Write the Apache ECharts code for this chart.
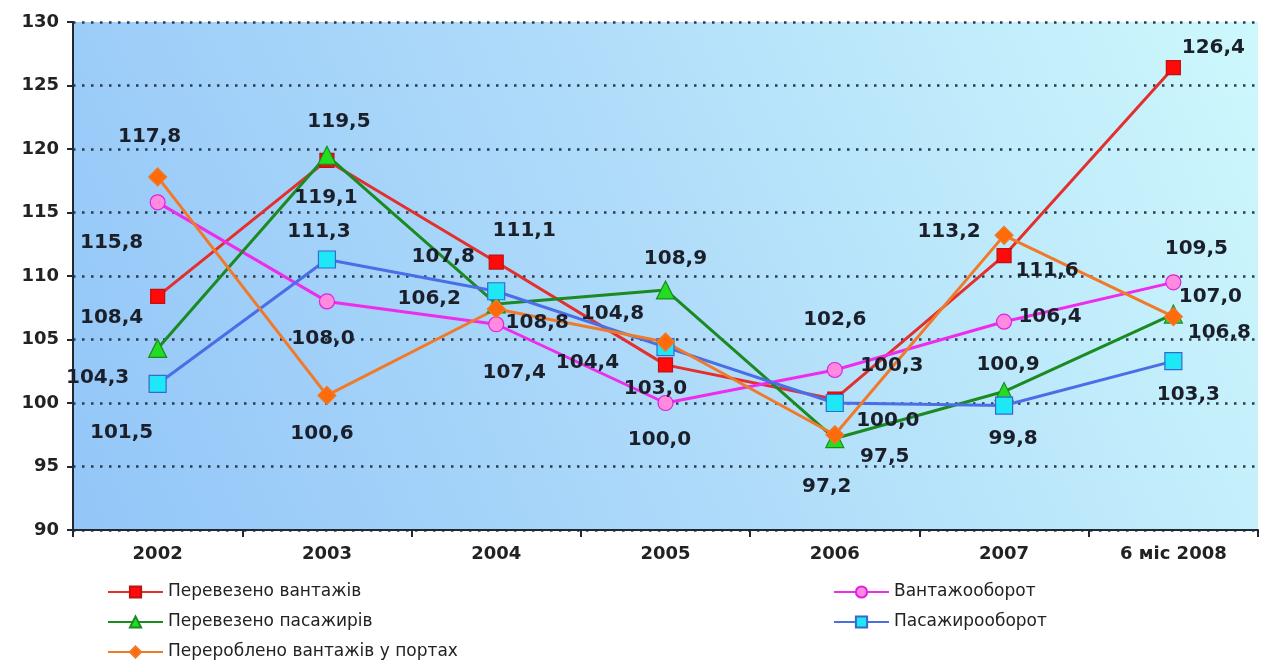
<!DOCTYPE html>
<html lang="uk" style="height: 100%">
  <head>
    <meta charset="utf-8" />
    <style>
      html, body { margin: 0; padding: 0; background: #fff; }
      #container { width: 1269px; height: 664px; }
    </style>
  </head>
  <body>
    <div id="container"></div>
    <script type="text/javascript" src="https://cdn.jsdelivr.net/npm/echarts@6/dist/echarts.min.js"></script>
    <script type="text/javascript">
      // categories and values
      var years = ["2002", "2003", "2004", "2005", "2006", "2007", "6 міс 2008"];
      var seriesNames = [
        "Перевезено вантажів",
        "Вантажооборот",
        "Перевезено пасажирів",
        "Пасажирооборот",
        "Перероблено вантажів у портах",
      ];
      var cargo = [108.4, 119.1, 111.1, 103.0, 100.3, 111.6, 126.4];
      var cargoTurnover = [115.8, 108.0, 106.2, 100.0, 102.6, 106.4, 109.5];
      var passengers = [104.3, 119.5, 107.8, 108.9, 97.2, 100.9, 107.0];
      var passTurnover = [101.5, 111.3, 108.8, 104.4, 100.0, 99.8, 103.3];
      var ports = [117.8, 100.6, 107.4, 104.8, 97.5, 113.2, 106.8];

      // label offsets (px) from each marker, as placed in the original
      var cargoLbl = [[-46, 21], [-1, 37], [28, -31], [-10, 24], [57, -33], [43, 15], [40, -20]];
      var cargoTurnoverLbl = [[-46, 40], [-4, 37], [-67, -25], [-6, 37], [0, -50], [46, -5], [23, -34]];
      var passengersLbl = [[-60, 29], [12, -34], [-53, -47], [10, -31], [-8, 48], [4, -27], [37, -17]];
      var passTurnoverLbl = [[-36, 49], [-8, -28], [41, 32], [-78, 16], [53, 18], [9, 33], [15, 34]];
      var portsLbl = [[-8, -40], [-5, 38], [18, 64], [-53, -28], [50, 22], [-55, -4], [46, 16]];

      var FONT = "DejaVu Sans";

      function withLabels(values, offsets) {
        return values.map(function (v, i) {
          return { value: v, label: { offset: offsets[i] } };
        });
      }

      function makeSeries(name, values, offsets, lineColor, symbol, size, fill, border) {
        return {
          name: name,
          type: "line",
          data: withLabels(values, offsets),
          symbol: symbol,
          symbolSize: size,
          lineStyle: { color: lineColor, width: 3 },
          itemStyle: { color: fill, borderColor: border, borderWidth: 1.2 },
          label: {
            show: true,
            position: "inside",
            fontFamily: FONT,
            fontWeight: "bold",
            fontSize: 20,
            color: "#1b1f2a",
            formatter: function (p) {
              return p.value.toFixed(1).replace(".", ",");
            },
          },
          emphasis: { disabled: true },
        };
      }

      var legendText = { fontFamily: FONT, fontSize: 17, lineHeight: 18, color: "#222" };

      var dom = document.getElementById("container");
      var myChart = echarts.init(dom, null, { renderer: "canvas" });

      var option = {
        animation: false,
        grid: {
          left: 73,
          right: 11,
          top: 22,
          bottom: 134,
          show: true,
          borderWidth: 0,
          backgroundColor: new echarts.graphic.LinearGradient(0, 1, 1, 0, [
            { offset: 0, color: "#93c6f8" },
            { offset: 0.5, color: "#b0dcfa" },
            { offset: 1, color: "#cdf8fc" },
          ]),
        },
        legend: [
          {
            data: [seriesNames[0], seriesNames[2], seriesNames[4]],
            orient: "vertical",
            left: 107,
            top: 583,
            padding: 0,
            itemWidth: 55,
            itemHeight: 14,
            itemGap: 12,
            textStyle: legendText,
          },
          {
            data: [seriesNames[1], seriesNames[3]],
            orient: "vertical",
            left: 833,
            top: 583,
            padding: 0,
            itemWidth: 55,
            itemHeight: 14,
            itemGap: 12,
            textStyle: legendText,
          },
        ],
        xAxis: {
          type: "category",
          data: years,
          boundaryGap: true,
          axisLine: { lineStyle: { color: "#1f2833", width: 2 } },
          axisTick: { show: true, length: 7, lineStyle: { color: "#1f2833", width: 2 } },
          axisLabel: {
            margin: 15,
            fontFamily: FONT,
            fontWeight: "bold",
            fontSize: 18,
            color: "#222",
          },
          splitLine: { show: false },
        },
        yAxis: {
          type: "value",
          min: 90,
          max: 130,
          interval: 5,
          axisLine: { show: true, lineStyle: { color: "#1f2833", width: 2 } },
          axisTick: { show: true, length: 6, lineStyle: { color: "#1f2833", width: 2 } },
          axisLabel: {
            margin: 14,
            fontFamily: FONT,
            fontWeight: "bold",
            fontSize: 18,
            color: "#222",
          },
          splitLine: {
            show: true,
            lineStyle: { color: "#2c3b4c", width: 2.5, type: [2.5, 6.5] },
          },
        },
        series: [
          makeSeries(seriesNames[0], cargo, cargoLbl, "#e3302c", "rect", 14, "#ff0a0a", "#c01010"),
          makeSeries(seriesNames[1], cargoTurnover, cargoTurnoverLbl, "#ee2cee", "circle", 15, "#ff8ade", "#e020e0"),
          makeSeries(seriesNames[2], passengers, passengersLbl, "#1b8a22", "triangle", 18, "#22dd22", "#1b8a22"),
          makeSeries(seriesNames[3], passTurnover, passTurnoverLbl, "#4a6ee6", "rect", 17, "#1fe8f6", "#3a66d0"),
          makeSeries(seriesNames[4], ports, portsLbl, "#f07a2a", "diamond", 18, "#ff6a0a", "#f07a2a"),
        ],
      };

      myChart.setOption(option);
      window.addEventListener("resize", myChart.resize);
    </script>
  </body>
</html>
